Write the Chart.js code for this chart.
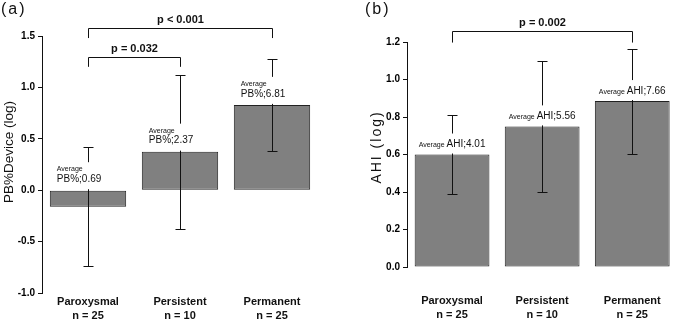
<!DOCTYPE html>
<html lang="en">

<head>
    <meta charset="UTF-8">
    <title>PB% and AHI by AF type</title>
    <script src="https://cdn.jsdelivr.net/npm/chart.js"></script>
    <style>
        html, body { margin: 0; padding: 0; background: #fff; overflow: hidden; }
        .painel { position: absolute; top: 0; }
        #painelA { left: 0; }
        #painelB { left: 338px; }
    </style>
</head>

<body>
    <div class="painel" id="painelA"><canvas id="chartA" width="338" height="322"></canvas></div>
    <div class="painel" id="painelB"><canvas id="chartB" width="350" height="322"></canvas></div>

<script>
    // categories and group sizes
    const categories = ['Paroxysmal', 'Persistent', 'Permanent'];
    const groupSizes = ['n = 25', 'n = 10', 'n = 25'];

    // panel (a): PB%Device (log), mean and error bar half-width
    const pbMeans = [-0.16, 0.375, 0.83];
    const pbErrors = [0.58, 0.75, 0.45];
    const pbAverages = [0.69, 2.37, 6.81];
    const pbTicks = { min: -1.0, max: 1.5, step: 0.5 };

    // panel (b): AHI (log)
    const ahiMeans = [0.60, 0.75, 0.885];
    const ahiErrors = [0.21, 0.35, 0.28];
    const ahiAverages = [4.01, 5.56, 7.66];
    const ahiTicks = { min: 0.0, max: 1.2, step: 0.2 };

    // significance brackets: categories joined, line height, leg end (data units)
    const pbComparisons = [
        { from: 0, to: 2, top: 1.58, bottom: 1.48, text: 'p < 0.001' },
        { from: 0, to: 1, top: 1.30, bottom: 1.20, text: 'p = 0.032' },
    ];
    const ahiComparisons = [
        { from: 0, to: 2, top: 1.257, bottom: 1.197, text: 'p = 0.002' },
    ];

    const FONT = "'Liberation Sans', Arial, sans-serif";
    const INK = '#111';

    function errorBars(means, errors) {
        return {
            id: 'errorBars',
            afterDatasetsDraw(chart) {
                const ctx = chart.ctx, x = chart.scales.x, y = chart.scales.y;
                ctx.save();
                ctx.strokeStyle = INK;
                ctx.lineWidth = 1;
                means.forEach((m, i) => {
                    const px = Math.round(x.getPixelForValue(i)) + 0.5;
                    const top = Math.round(y.getPixelForValue(m + errors[i])) + 0.5;
                    const bot = Math.round(y.getPixelForValue(m - errors[i])) + 0.5;
                    ctx.beginPath();
                    ctx.moveTo(px, top); ctx.lineTo(px, bot);
                    ctx.moveTo(px - 5, top); ctx.lineTo(px + 5, top);
                    ctx.moveTo(px - 5, bot); ctx.lineTo(px + 5, bot);
                    ctx.stroke();
                });
                ctx.restore();
            }
        };
    }

    function brackets(list) {
        return {
            id: 'brackets',
            afterDraw(chart) {
                const ctx = chart.ctx, x = chart.scales.x, y = chart.scales.y;
                ctx.save();
                ctx.strokeStyle = INK;
                ctx.fillStyle = INK;
                ctx.lineWidth = 1;
                ctx.font = 'bold 11px ' + FONT;
                ctx.textAlign = 'center';
                ctx.textBaseline = 'middle';
                list.forEach(b => {
                    const x1 = Math.round(x.getPixelForValue(b.from)) + 0.5;
                    const x2 = Math.round(x.getPixelForValue(b.to)) + 0.5;
                    const yt = Math.round(y.getPixelForValue(b.top)) + 0.5;
                    const yb = y.getPixelForValue(b.bottom);
                    ctx.beginPath();
                    ctx.moveTo(x1, yb); ctx.lineTo(x1, yt); ctx.lineTo(x2, yt); ctx.lineTo(x2, yb);
                    ctx.stroke();
                    ctx.fillText(b.text, (x1 + x2) / 2, yt - 9);
                });
                ctx.restore();
            }
        };
    }

    // panel (a) labels: small "Average" over "PB%;x.xx", left aligned on the bar
    const pbLabels = {
        id: 'pbLabels',
        afterDatasetsDraw(chart) {
            const ctx = chart.ctx, y = chart.scales.y;
            const bars = chart.getDatasetMeta(0).data;
            ctx.save();
            ctx.textBaseline = 'middle';
            ctx.textAlign = 'left';
            bars.forEach((bar, i) => {
                const base = y.getPixelForValue(Math.max(0, pbMeans[i]));
                const left = bar.x - bar.width / 2 + 7;
                const txt = 'PB%;' + pbAverages[i].toFixed(2);
                ctx.font = '10px ' + FONT;
                const w = ctx.measureText(txt).width;
                ctx.fillStyle = '#fff';
                ctx.fillRect(left - 1, base - 28, w + 2, 27);
                ctx.fillStyle = INK;
                ctx.fillText(txt, left, base - 11);
                ctx.font = '7px ' + FONT;
                ctx.fillText('Average', left, base - 21);
            });
            ctx.restore();
        }
    };

    // panel (b) labels: "Average AHI;x.xx" centred above the bar
    const ahiLabels = {
        id: 'ahiLabels',
        afterDatasetsDraw(chart) {
            const ctx = chart.ctx, y = chart.scales.y;
            const bars = chart.getDatasetMeta(0).data;
            ctx.save();
            ctx.textBaseline = 'middle';
            ctx.textAlign = 'left';
            bars.forEach((bar, i) => {
                const base = y.getPixelForValue(ahiMeans[i]);
                const small = 'Average ';
                const big = 'AHI;' + ahiAverages[i].toFixed(2);
                ctx.font = '7px ' + FONT;
                const ws = ctx.measureText(small).width;
                ctx.font = '10px ' + FONT;
                const wb = ctx.measureText(big).width;
                const start = bar.x - (ws + wb) / 2;
                ctx.fillStyle = '#fff';
                ctx.fillRect(start - 1, base - 21, ws + wb + 2, 20);
                ctx.fillStyle = INK;
                ctx.font = '7px ' + FONT;
                ctx.fillText(small, start, base - 9);
                ctx.font = '10px ' + FONT;
                ctx.fillText(big, start + ws, base - 10);
            });
            ctx.restore();
        }
    };

    function titles(letter, letterX, title, titleX, titleY, titleSize, spacing) {
        return {
            id: 'titles',
            afterDraw(chart) {
                const ctx = chart.ctx;
                ctx.save();
                ctx.fillStyle = INK;
                ctx.textBaseline = 'middle';
                ctx.textAlign = 'left';
                ctx.font = '16px ' + FONT;
                ctx.letterSpacing = '2px';
                ctx.fillText(letter, letterX, 10);
                ctx.translate(titleX, titleY);
                ctx.rotate(-Math.PI / 2);
                ctx.textAlign = 'center';
                ctx.font = titleSize + 'px ' + FONT;
                ctx.letterSpacing = spacing + 'px';
                ctx.fillText(title, 0, 0);
                ctx.restore();
            }
        };
    }

    function montarGrafico(canvasId, means, ticks, yWidth, xHeight, xPad, padRight, padTop, plugins) {
        return new Chart(document.getElementById(canvasId), {
            type: 'bar',
            data: {
                labels: categories.map((c, i) => [c, groupSizes[i]]),
                datasets: [{
                    data: means,
                    backgroundColor: '#808080',
                    borderColor: '#222',
                    borderWidth: 1,
                    borderSkipped: false,
                    categoryPercentage: 1.0,
                    barPercentage: 0.83,
                }],
            },
            options: {
                responsive: false,
                animation: false,
                layout: { padding: { top: padTop, right: padRight, left: 0, bottom: 0 } },
                plugins: { legend: { display: false }, tooltip: { enabled: false } },
                scales: {
                    x: {
                        grid: { display: false, drawTicks: false, tickLength: 0 },
                        border: { display: false },
                        ticks: {
                            color: INK,
                            font: { family: FONT, size: 11, weight: 'bold', lineHeight: 1.3 },
                            padding: xPad,
                            maxRotation: 0,
                            autoSkip: false,
                        },
                        afterFit: (s) => { s.height = xHeight; },
                    },
                    y: {
                        min: ticks.min,
                        max: ticks.max,
                        border: { display: true, color: INK, width: 1 },
                        grid: { drawOnChartArea: false, tickLength: 4, color: INK },
                        ticks: {
                            stepSize: ticks.step,
                            color: '#000',
                            padding: 3,
                            font: { family: FONT, size: 10, weight: 'bold' },
                            callback: (v) => Number(v).toFixed(1),
                        },
                        afterFit: (s) => { s.width = yWidth; },
                    },
                },
            },
            plugins: plugins,
        });
    }

    montarGrafico('chartA', pbMeans, pbTicks, 42, 29, 2, 20, 36, [
        errorBars(pbMeans, pbErrors), pbLabels, brackets(pbComparisons),
        titles('(a)', 1, 'PB%Device (log)', 9, 152, 13.5, 0),
    ]);

    montarGrafico('chartB', ahiMeans, ahiTicks, 69, 322 - 267, 26.5, 5, 42, [
        errorBars(ahiMeans, ahiErrors), ahiLabels, brackets(ahiComparisons),
        titles('(b)', 27, 'AHI (log)', 39, 147, 14, 2),
    ]);
</script>
</body>

</html>
